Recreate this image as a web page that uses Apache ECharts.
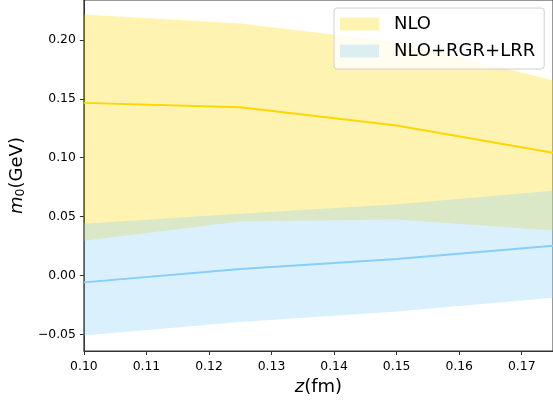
<!DOCTYPE html>
<html>
<head>
<meta charset="utf-8">
<script src="https://cdn.jsdelivr.net/npm/echarts@6/dist/echarts.min.js"></script>
<style>html,body{margin:0;padding:0;background:#fff}#c{width:553px;height:406px}</style>
</head>
<body>
<div id="c"></div>
<script>
const z = [0.1, 0.125, 0.15, 0.175];
const nloCentral = [0.1466, 0.1428, 0.1273, 0.1042];
const nloLower = [0.0295, 0.0459, 0.0476, 0.0381];
const nloUpper = [0.2216, 0.2140, 0.1983, 0.1659];
const fullCentral = [-0.0059, 0.0054, 0.0139, 0.0252];
const fullLower = [-0.0510, -0.0396, -0.0306, -0.0190];
const fullUpper = [0.0440, 0.0524, 0.0604, 0.0719];
const xTicks = [0.10, 0.11, 0.12, 0.13, 0.14, 0.15, 0.16, 0.17];
const yTicks = [-0.05, 0.00, 0.05, 0.10, 0.15, 0.20];
const seriesNames = ['NLO', 'NLO+RGR+LRR'];

const FONT = 'DejaVu Sans';
const gold = '#FFD700';
const sky = '#87CEFA';
const goldFill = 'rgba(255,215,0,0.3)';
const skyFill = 'rgba(135,206,250,0.3)';

const pts = (ys) => z.map((x, i) => [x, ys[i]]);
const bandRows = (lo, hi) => z.map((x, i) => [x, lo[i], hi[i]]);

function bandRenderer(fill) {
  return function (params, api) {
    if (params.dataIndexInside !== 0) return null;
    const n = params.dataInsideLength;
    const upper = [], lower = [];
    for (let k = 0; k < n; k++) {
      const x = api.value(0, k);
      lower.push(api.coord([x, api.value(1, k)]));
      upper.push(api.coord([x, api.value(2, k)]));
    }
    const poly = upper.concat(lower.reverse());
    return {type: 'polygon', shape: {points: poly}, style: {fill: fill, stroke: null}, silent: true};
  };
}

const chart = echarts.init(document.getElementById('c'), null, {renderer: 'canvas'});
chart.setOption({
  animation: false,
  textStyle: {fontFamily: FONT},
  grid: {left: 83, top: 0, width: 472.5, height: 351, show: true, borderColor: '#333', borderWidth: 1, backgroundColor: 'transparent'},
  legend: {
    orient: 'vertical', left: 334, top: 8, width: 213,
    padding: [7, 9, 9, 6],
    itemWidth: 39, itemHeight: 13, itemGap: 9,
    backgroundColor: 'rgba(255,255,255,0.8)', borderColor: '#d0d0d0', borderWidth: 1, borderRadius: 3,
    textStyle: {fontFamily: FONT, fontSize: 18, color: '#000', padding: [0, 0, 0, 10]},
    data: [
      {name: seriesNames[0], icon: 'rect', itemStyle: {color: goldFill, borderWidth: 0}},
      {name: seriesNames[1], icon: 'rect', itemStyle: {color: skyFill, borderWidth: 0}}
    ]
  },
  xAxis: {
    type: 'value', min: 0.1, max: 0.175,
    name: '{i|z}(fm)', nameLocation: 'middle', nameGap: 25,
    nameTextStyle: {fontFamily: FONT, fontSize: 18, color: '#000', rich: {i: {fontFamily: FONT, fontSize: 18, fontStyle: 'italic', color: '#000'}}},
    axisLine: {show: true, onZero: false, lineStyle: {color: '#333', width: 1}},
    axisTick: {show: true, length: 4, inside: false, lineStyle: {color: '#333'}, customValues: xTicks},
    axisLabel: {fontFamily: FONT, fontSize: 12.4, color: '#000', margin: 10, customValues: xTicks, formatter: v => v.toFixed(2)},
    splitLine: {show: false}
  },
  yAxis: {
    type: 'value', min: -0.0642, max: 0.234,
    name: '{i|m}{s|0}(GeV)', nameLocation: 'middle', nameRotate: 90, nameGap: 48,
    nameTextStyle: {fontFamily: FONT, fontSize: 18, color: '#000', rich: {
      i: {fontFamily: FONT, fontSize: 18, fontStyle: 'italic', color: '#000'},
      s: {fontFamily: FONT, fontSize: 12.5, color: '#000', padding: [7, 0, 0, 0]}
    }},
    axisLine: {show: true, onZero: false, lineStyle: {color: '#333', width: 1}},
    axisTick: {show: true, length: 4, inside: false, lineStyle: {color: '#333'}, customValues: yTicks},
    axisLabel: {fontFamily: FONT, fontSize: 12.4, color: '#000', margin: 8, customValues: yTicks,
      formatter: v => (v < 0 ? '\u2212' : '') + Math.abs(v).toFixed(2)},
    splitLine: {show: false}
  },
  series: [
    {type: 'custom', name: seriesNames[0], data: bandRows(nloLower, nloUpper), renderItem: bandRenderer(goldFill),
      encode: {x: 0, y: [1, 2]}, itemStyle: {color: goldFill}, z: 1, clip: true},
    {type: 'line', name: 'nloCentral', data: pts(nloCentral), symbol: 'none', lineStyle: {color: gold, width: 2}, z: 2},
    {type: 'custom', name: seriesNames[1], data: bandRows(fullLower, fullUpper), renderItem: bandRenderer(skyFill),
      encode: {x: 0, y: [1, 2]}, itemStyle: {color: skyFill}, z: 3, clip: true},
    {type: 'line', name: 'fullCentral', data: pts(fullCentral), symbol: 'none', lineStyle: {color: sky, width: 2}, z: 4}
  ]
});
</script>
</body>
</html>
